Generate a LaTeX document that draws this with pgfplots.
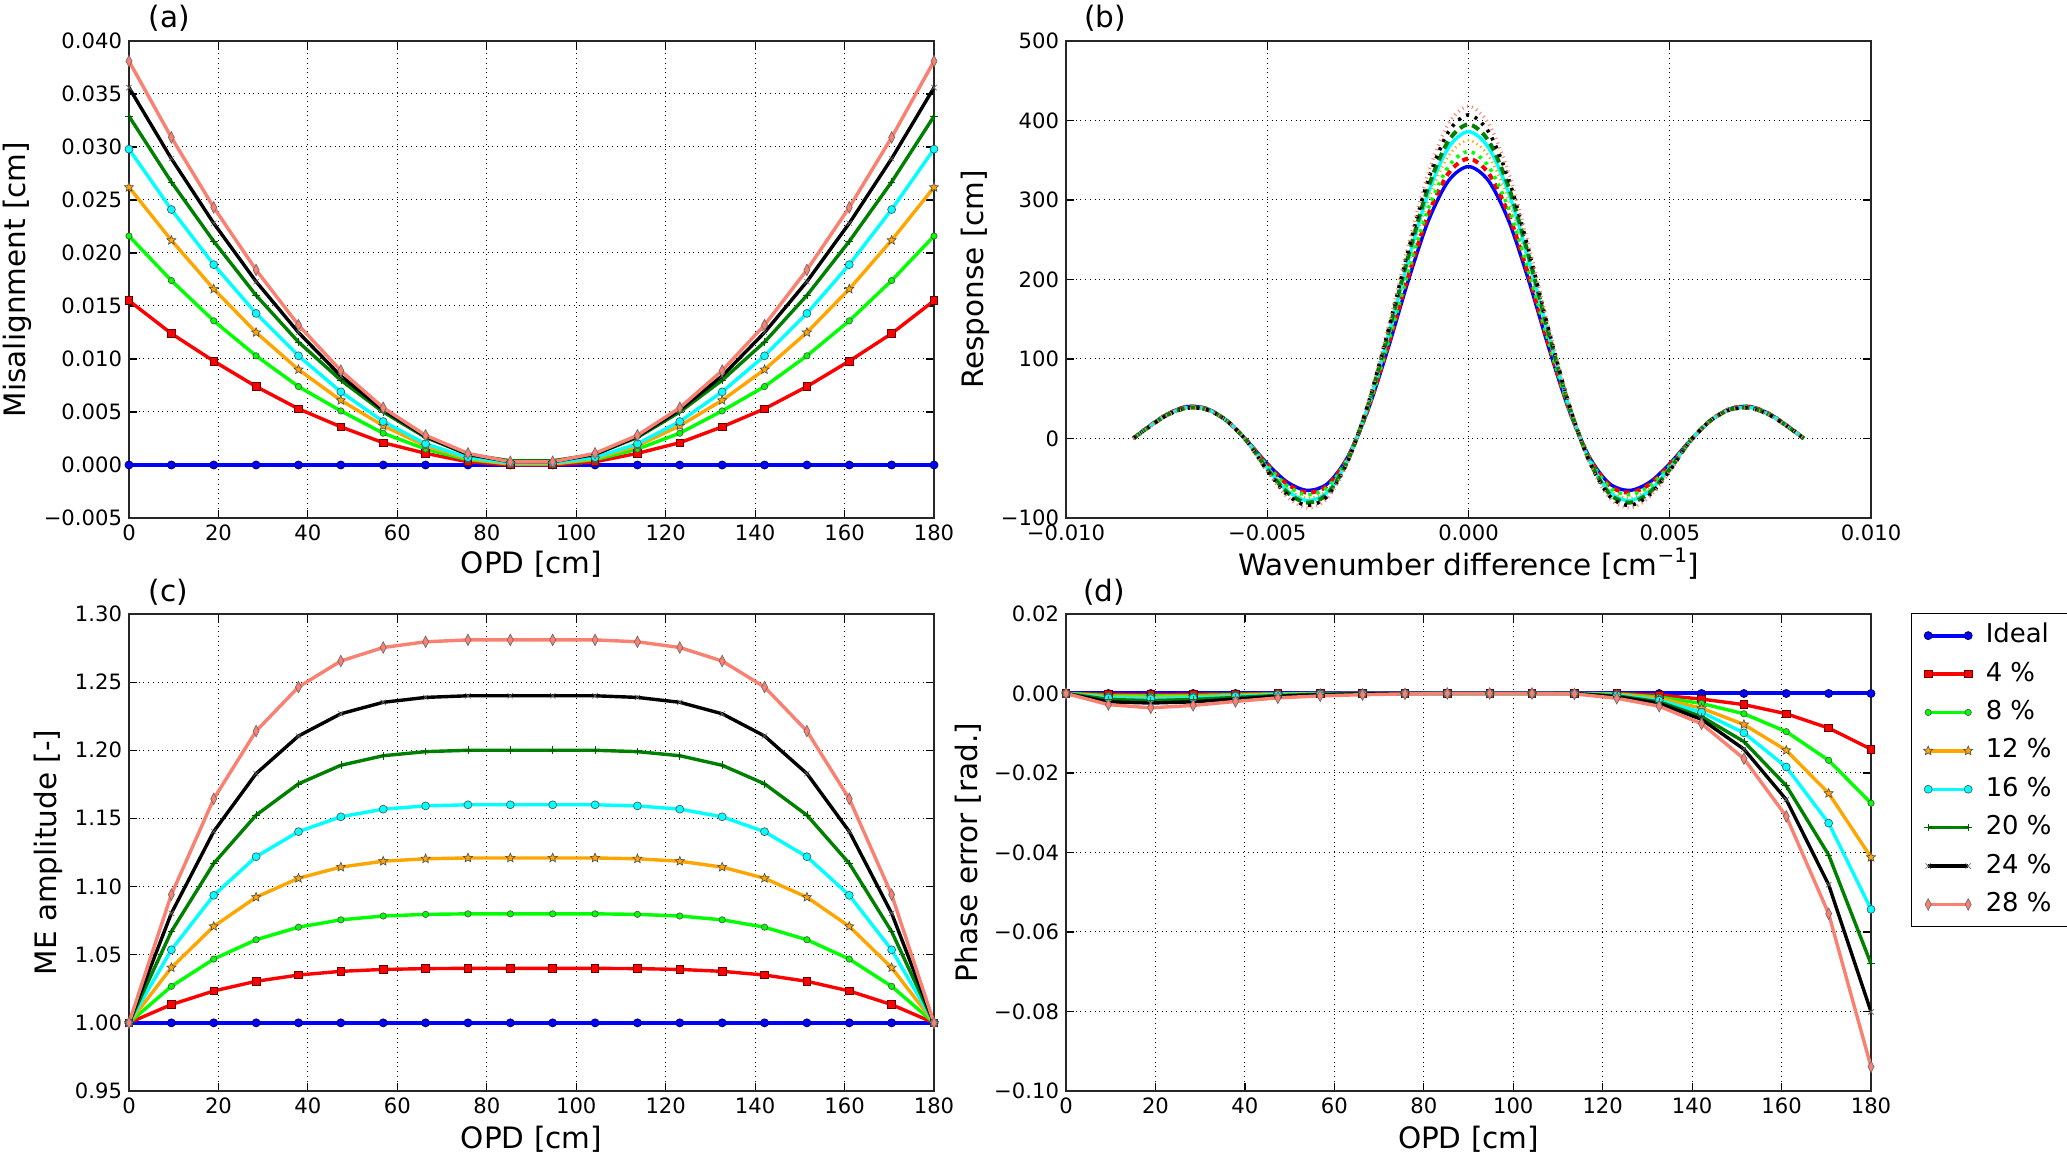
\documentclass[border=0pt]{standalone}
\usepackage{fontspec}
\setmainfont{DejaVu Sans}
\usepackage{pgfplots}
\pgfplotsset{compat=1.18}
\usepackage{pgfplotstable}
\usetikzlibrary{plotmarks}

\definecolor{cblue}{rgb}{0,0,1}
\definecolor{cred}{rgb}{1,0,0}
\definecolor{clime}{rgb}{0,1,0}
\definecolor{corange}{HTML}{FFA500}
\definecolor{ccyan}{rgb}{0,1,1}
\definecolor{cdgreen}{HTML}{008000}
\definecolor{csalmon}{HTML}{FA8072}

\newcommand\tickfont{\fontsize{10.6}{12}\selectfont}
\newcommand\labfont{\fontsize{14.8}{17}\selectfont}

\pgfdeclareplotmark{fstar}{%
 \pgfpathmoveto{\pgfpointpolar{90}{\pgfplotmarksize}}%
 \pgfpathlineto{\pgfpointpolar{126}{0.45\pgfplotmarksize}}%
 \pgfpathlineto{\pgfpointpolar{162}{\pgfplotmarksize}}%
 \pgfpathlineto{\pgfpointpolar{198}{0.45\pgfplotmarksize}}%
 \pgfpathlineto{\pgfpointpolar{234}{\pgfplotmarksize}}%
 \pgfpathlineto{\pgfpointpolar{270}{0.45\pgfplotmarksize}}%
 \pgfpathlineto{\pgfpointpolar{306}{\pgfplotmarksize}}%
 \pgfpathlineto{\pgfpointpolar{342}{0.45\pgfplotmarksize}}%
 \pgfpathlineto{\pgfpointpolar{18}{\pgfplotmarksize}}%
 \pgfpathlineto{\pgfpointpolar{54}{0.45\pgfplotmarksize}}%
 \pgfpathclose
 \pgfusepathqfillstroke}

\pgfplotsset{
 base/.style={scale only axis, width=402.5bp, height=238.5bp, anchor=south west,
   tick align=inside, major tick length=4bp, tick style={black, line width=0.6bp},
   axis line style={black!85, line width=0.8bp},
   grid=major, grid style={dotted, black, line width=0.5bp},
   ticklabel style={font=\tickfont},
   /pgf/number format/assume math mode=true,
   scaled ticks=false,
   label style={font=\labfont},
   xlabel style={at={(axis description cs:0.5,-0.096)}, anchor=center},
   title style={font=\labfont, anchor=west},
 },
 mI/.style={cblue, line width=2bp, mark=*, mark size=2bp, mark options={fill=cblue, draw=black!60!blue, line width=0.4bp}},
 m4/.style={cred, line width=1.7bp, mark=square*, mark size=1.9bp, mark options={fill=cred, draw=black!60!red, line width=0.4bp}},
 m8/.style={clime, line width=1.7bp, mark=*, mark size=1.6bp, mark options={fill=clime, draw=black!70, line width=0.3bp}},
 m12/.style={corange, line width=1.7bp, mark=fstar, mark size=2.4bp, mark options={fill=corange, draw=black!70, line width=0.3bp}},
 m16/.style={ccyan, line width=1.7bp, mark=*, mark size=2bp, mark options={fill=ccyan, draw=black!70, line width=0.3bp}},
 m20/.style={cdgreen, line width=1.7bp, mark=+, mark size=1.9bp, mark options={draw=cdgreen!70!black, line width=0.3bp}},
 m24/.style={black, line width=1.7bp, mark=x, mark size=1.9bp, mark options={draw=black!60, line width=0.3bp}},
 m28/.style={csalmon, line width=1.7bp, mark=diamond*, mark size=2.9bp, mark options={fill=csalmon, draw=black!60, line width=0.3bp, xscale=0.7}},
 lI/.style={cblue, line width=1.7bp, smooth},
 l4/.style={cred, line width=2bp, dash pattern=on 3bp off 2.5bp, smooth},
 l8/.style={clime, line width=1.8bp, dash pattern=on 1.6bp off 2.6bp, smooth},
 l12/.style={corange, line width=1.3bp, dash pattern=on 0.6bp off 1.8bp, smooth},
 l16/.style={ccyan, line width=1.7bp, smooth},
 l20/.style={cdgreen, line width=2bp, dash pattern=on 4bp off 2.5bp, smooth},
 l24/.style={black, line width=1.8bp, dash pattern=on 1.5bp off 3bp, smooth},
 l28/.style={csalmon, line width=1.7bp, dash pattern=on 0.5bp off 2bp, smooth},
}

\pgfplotstableread{
x I p4 p8 p12 p16 p20 p24 p28
0 0 0.0155 0.0216 0.0262 0.0298 0.0329 0.0356 0.0381
9.474 0 0.0124 0.0174 0.0212 0.0241 0.0267 0.0289 0.0309
18.947 0 0.0098 0.0136 0.0166 0.0189 0.0211 0.0228 0.0243
28.421 0 0.0074 0.0103 0.0125 0.0143 0.0160 0.0173 0.0184
37.895 0 0.0053 0.0074 0.0090 0.0103 0.0116 0.0125 0.0132
47.368 0 0.0036 0.0051 0.0061 0.0069 0.0080 0.0084 0.0089
56.842 0 0.0021 0.0030 0.0037 0.0041 0.0050 0.0052 0.0054
66.316 0 0.0011 0.0015 0.0018 0.0020 0.0026 0.0027 0.0028
75.789 0 0.0003 0.0005 0.0006 0.0007 0.0010 0.0010 0.0011
85.263 0 0.0000 0.0001 0.0001 0.0002 0.0004 0.0003 0.0003
94.737 0 0.0000 0.0001 0.0001 0.0002 0.0004 0.0003 0.0003
104.211 0 0.0003 0.0005 0.0006 0.0007 0.0010 0.0010 0.0011
113.684 0 0.0011 0.0015 0.0018 0.0020 0.0026 0.0027 0.0028
123.158 0 0.0021 0.0030 0.0037 0.0041 0.0050 0.0052 0.0054
132.632 0 0.0036 0.0051 0.0061 0.0069 0.0080 0.0084 0.0089
142.105 0 0.0053 0.0074 0.0090 0.0103 0.0116 0.0125 0.0132
151.579 0 0.0074 0.0103 0.0125 0.0143 0.0160 0.0173 0.0184
161.053 0 0.0098 0.0136 0.0166 0.0189 0.0211 0.0228 0.0243
170.526 0 0.0124 0.0174 0.0212 0.0241 0.0267 0.0289 0.0309
180 0 0.0155 0.0216 0.0262 0.0298 0.0329 0.0356 0.0381
}\tA

\pgfplotstableread{
s I p4 p8 p12 p16 p20 p24 p28
-0.00833 0 0 0 0 0 0 0 0
-0.0080 12.9 12.8 12.7 12.6 12.5 12.4 12.3 12.2
-0.0075 30.3 30.1 29.9 29.6 29.4 29.2 29.0 28.8
-0.0070 40.1 39.8 39.5 39.1 38.8 38.5 38.2 37.8
-0.0065 37.5 37.3 37.1 36.8 36.6 36.4 36.2 36.0
-0.0060 22.1 22.1 22.1 22.1 22.1 22.1 22.1 22.1
-0.0055 -3.1 -3.2 -3.3 -3.4 -3.5 -3.6 -3.8 -3.9
-0.0050 -31.6 -33.0 -34.2 -36.1 -37.5 -38.8 -40.4 -41.9
-0.0045 -55.0 -57.5 -59.7 -63.1 -65.8 -68.0 -70.9 -73.6
-0.0040 -65.3 -68.2 -70.8 -74.9 -78.1 -80.7 -84.2 -87.4
-0.0035 -56.7 -59.1 -61.2 -64.6 -67.2 -69.4 -72.2 -74.9
-0.0030 -23.1 -24.0 -24.8 -26.0 -27.0 -27.8 -28.8 -29.8
-0.0025 35.5 36.6 37.6 39.1 40.3 41.3 42.6 43.8
-0.0020 113.0 116.4 119.5 124.2 128.0 131.1 135.1 138.9
-0.0015 198.0 203.8 209.1 217.3 223.7 229.0 236.0 242.4
-0.0010 273.6 281.6 288.8 300.0 308.8 316.0 325.6 334.4
-0.0005 324.0 333.5 342.0 355.3 365.7 374.2 385.6 396.0
0 342 352 361 375 386 395 407 418
0.0005 324.0 333.5 342.0 355.3 365.7 374.2 385.6 396.0
0.0010 273.6 281.6 288.8 300.0 308.8 316.0 325.6 334.4
0.0015 198.0 203.8 209.1 217.3 223.7 229.0 236.0 242.4
0.0020 113.0 116.4 119.5 124.2 128.0 131.1 135.1 138.9
0.0025 35.5 36.6 37.6 39.1 40.3 41.3 42.6 43.8
0.0030 -23.1 -24.0 -24.8 -26.0 -27.0 -27.8 -28.8 -29.8
0.0035 -56.7 -59.1 -61.2 -64.6 -67.2 -69.4 -72.2 -74.9
0.0040 -65.3 -68.2 -70.8 -74.9 -78.1 -80.7 -84.2 -87.4
0.0045 -55.0 -57.5 -59.7 -63.1 -65.8 -68.0 -70.9 -73.6
0.0050 -31.6 -33.0 -34.2 -36.1 -37.5 -38.8 -40.4 -41.9
0.0055 -3.1 -3.2 -3.3 -3.4 -3.5 -3.6 -3.8 -3.9
0.0060 22.1 22.1 22.1 22.1 22.1 22.1 22.1 22.1
0.0065 37.5 37.3 37.1 36.8 36.6 36.4 36.2 36.0
0.0070 40.1 39.8 39.5 39.1 38.8 38.5 38.2 37.8
0.0075 30.3 30.1 29.9 29.6 29.4 29.2 29.0 28.8
0.0080 12.9 12.8 12.7 12.6 12.5 12.4 12.3 12.2
0.00833 0 0 0 0 0 0 0 0
}\tB

\pgfplotstableread{
x I p4 p8 p12 p16 p20 p24 p28
0 1 1.0000 1.0000 1.0000 1.0000 1.0000 1.0000 1.0000
9.474 1 1.0134 1.0268 1.0405 1.0536 1.0670 1.0804 1.0941
18.947 1 1.0234 1.0468 1.0708 1.0936 1.1170 1.1404 1.1644
28.421 1 1.0305 1.0610 1.0922 1.1219 1.1524 1.1829 1.2141
37.895 1 1.0351 1.0702 1.1061 1.1403 1.1754 1.2105 1.2464
47.368 1 1.0378 1.0756 1.1143 1.1512 1.1890 1.2268 1.2655
56.842 1 1.0392 1.0784 1.1186 1.1568 1.1960 1.2352 1.2754
66.316 1 1.0398 1.0796 1.1204 1.1592 1.1990 1.2388 1.2796
75.789 1 1.0400 1.0800 1.1210 1.1600 1.2000 1.2400 1.2810
85.263 1 1.0400 1.0800 1.1210 1.1600 1.2000 1.2400 1.2810
94.737 1 1.0400 1.0800 1.1210 1.1600 1.2000 1.2400 1.2810
104.211 1 1.0400 1.0800 1.1210 1.1600 1.2000 1.2400 1.2810
113.684 1 1.0398 1.0796 1.1204 1.1592 1.1990 1.2388 1.2796
123.158 1 1.0392 1.0784 1.1186 1.1568 1.1960 1.2352 1.2754
132.632 1 1.0378 1.0756 1.1143 1.1512 1.1890 1.2268 1.2655
142.105 1 1.0351 1.0702 1.1061 1.1403 1.1754 1.2105 1.2464
151.579 1 1.0305 1.0610 1.0922 1.1219 1.1524 1.1829 1.2141
161.053 1 1.0234 1.0468 1.0708 1.0936 1.1170 1.1404 1.1644
170.526 1 1.0134 1.0268 1.0405 1.0536 1.0670 1.0804 1.0941
180 1 1.0000 1.0000 1.0000 1.0000 1.0000 1.0000 1.0000
}\tC

\pgfplotstableread{
x I p4 p8 p12 p16 p20 p24 p28
0 0 0 0 0 0 0 0 0
9.474 0 -0.0002 -0.0005 -0.0008 -0.0011 -0.0015 -0.0021 -0.0028
18.947 0 -0.0003 -0.0006 -0.0009 -0.0013 -0.0018 -0.0024 -0.0036
28.421 0 -0.0002 -0.0005 -0.0008 -0.0011 -0.0015 -0.0021 -0.0030
37.895 0 -0.0001 -0.0003 -0.0005 -0.0007 -0.0010 -0.0014 -0.0020
47.368 0 0 -0.0001 -0.0002 -0.0003 -0.0005 -0.0007 -0.0011
56.842 0 0 0 0 -0.0001 -0.0002 -0.0003 -0.0006
66.316 0 0 0 0 0 0 -0.0001 -0.0003
75.789 0 0 0 0 0 0 0 -0.0001
85.263 0 0 0 0 0 0 0 0
94.737 0 0 0 0 0 0 0 0
104.211 0 0 0 0 0 0 0 0
113.684 0 0 0 0 0 0 0 -0.0001
123.158 0 0 -0.0001 -0.0002 -0.0004 -0.0006 -0.0008 -0.0012
132.632 0 -0.0004 -0.0009 -0.0012 -0.0017 -0.0021 -0.0025 -0.0032
142.105 0 -0.0014 -0.0025 -0.0037 -0.0047 -0.0058 -0.0065 -0.0076
151.579 0 -0.0028 -0.0051 -0.0078 -0.0099 -0.0121 -0.0140 -0.0164
161.053 0 -0.0051 -0.0096 -0.0143 -0.0185 -0.0232 -0.0267 -0.0309
170.526 0 -0.0087 -0.0168 -0.0251 -0.0326 -0.0406 -0.0481 -0.0554
180 0 -0.0140 -0.0276 -0.0412 -0.0543 -0.0680 -0.0801 -0.0939
}\tD

\begin{document}
\begin{tikzpicture}
\path[use as bounding box] (0,0) rectangle (1033.5bp,577.5bp);

% (a)
\begin{axis}[base, at={(64.5bp,318.5bp)},
  xmin=0, xmax=180, ymin=-0.005, ymax=0.04,
  xtick={0,20,...,180},
  ytick={-0.005,0,0.005,0.01,0.015,0.02,0.025,0.03,0.035,0.04},
  yticklabels={−0.005,0.000,0.005,0.010,0.015,0.020,0.025,0.030,0.035,0.040},
  xlabel={OPD [cm]}, ylabel={Misalignment [cm]},
  ylabel style={at={(axis description cs:-0.139,0.5)}, anchor=center},
  title={(a)}, title style={at={(axis description cs:0.016,1.023)}}]
\addplot[mI] table[x=x,y=I]{\tA};
\addplot[m4] table[x=x,y=p4]{\tA};
\addplot[m8] table[x=x,y=p8]{\tA};
\addplot[m12] table[x=x,y=p12]{\tA};
\addplot[m16] table[x=x,y=p16]{\tA};
\addplot[m20] table[x=x,y=p20]{\tA};
\addplot[m24] table[x=x,y=p24]{\tA};
\addplot[m28] table[x=x,y=p28]{\tA};
\end{axis}

% (b)
\begin{axis}[base, at={(533bp,318.5bp)},
  xmin=-0.01, xmax=0.01, ymin=-100, ymax=500,
  xtick={-0.01,-0.005,0,0.005,0.01},
  xticklabels={−0.010,−0.005,0.000,0.005,0.010},
  ytick={-100,0,100,200,300,400,500},
  yticklabels={−100,0,100,200,300,400,500},
  xlabel={Wavenumber difference [cm\raisebox{0.8ex}{\fontsize{10}{10}\selectfont −1}]},
  ylabel={Response [cm]},
  ylabel style={at={(axis description cs:-0.113,0.5)}, anchor=center},
  title={(b)}, title style={at={(axis description cs:0.0137,1.023)}}]
\addplot[lI] table[x=s,y=I]{\tB};
\addplot[l4] table[x=s,y=p4]{\tB};
\addplot[l8] table[x=s,y=p8]{\tB};
\addplot[l12] table[x=s,y=p12]{\tB};
\addplot[l16] table[x=s,y=p16]{\tB};
\addplot[l20] table[x=s,y=p20]{\tB};
\addplot[l24] table[x=s,y=p24]{\tB};
\addplot[l28] table[x=s,y=p28]{\tB};
\end{axis}

% (c)
\begin{axis}[base, at={(64.5bp,32bp)},
  xmin=0, xmax=180, ymin=0.95, ymax=1.3,
  xtick={0,20,...,180},
  ytick={0.95,1,1.05,1.1,1.15,1.2,1.25,1.3},
  yticklabels={0.95,1.00,1.05,1.10,1.15,1.20,1.25,1.30},
  xlabel={OPD [cm]}, ylabel={ME amplitude [-]},
  xlabel style={at={(axis description cs:0.5,-0.1006)}},
  ylabel style={at={(axis description cs:-0.1006,0.5)}, anchor=center},
  title={(c)}, title style={at={(axis description cs:0.016,1.021)}}]
\addplot[mI] table[x=x,y=I]{\tC};
\addplot[m4] table[x=x,y=p4]{\tC};
\addplot[m8] table[x=x,y=p8]{\tC};
\addplot[m12] table[x=x,y=p12]{\tC};
\addplot[m16] table[x=x,y=p16]{\tC};
\addplot[m20] table[x=x,y=p20]{\tC};
\addplot[m24] table[x=x,y=p24]{\tC};
\addplot[m28] table[x=x,y=p28]{\tC};
\end{axis}

% (d)
\begin{axis}[base, at={(533bp,32bp)},
  xmin=0, xmax=180, ymin=-0.1, ymax=0.02,
  xtick={0,20,...,180},
  ytick={-0.1,-0.08,-0.06,-0.04,-0.02,0,0.02},
  yticklabels={−0.10,−0.08,−0.06,−0.04,−0.02,0.00,0.02},
  xlabel={OPD [cm]}, ylabel={Phase error [rad.]},
  xlabel style={at={(axis description cs:0.5,-0.1006)}},
  ylabel style={at={(axis description cs:-0.122,0.5)}, anchor=center},
  title={(d)}, title style={at={(axis description cs:0.0125,1.021)}},
  legend style={at={(axis description cs:1.0497,1.002)}, anchor=north west,
    draw=black, line width=0.6bp, font=\fontsize{13}{15}\selectfont,
    inner xsep=6bp, inner ysep=2.5bp, row sep=2.2bp, column sep=4.5bp,
    nodes={inner sep=2bp, text height=10bp, text depth=3bp}},
  legend cell align=left,
  legend image code/.code={\draw[#1] plot coordinates {(0bp,0bp) (20bp,0bp)};}]
\addplot[mI] table[x=x,y=I]{\tD};
\addplot[m4] table[x=x,y=p4]{\tD};
\addplot[m8] table[x=x,y=p8]{\tD};
\addplot[m12] table[x=x,y=p12]{\tD};
\addplot[m16] table[x=x,y=p16]{\tD};
\addplot[m20] table[x=x,y=p20]{\tD};
\addplot[m24] table[x=x,y=p24]{\tD};
\addplot[m28] table[x=x,y=p28]{\tD};
\legend{Ideal, 4 \%, 8 \%, 12 \%, 16 \%, 20 \%, 24 \%, 28 \%}
\end{axis}
\end{tikzpicture}
\end{document}
